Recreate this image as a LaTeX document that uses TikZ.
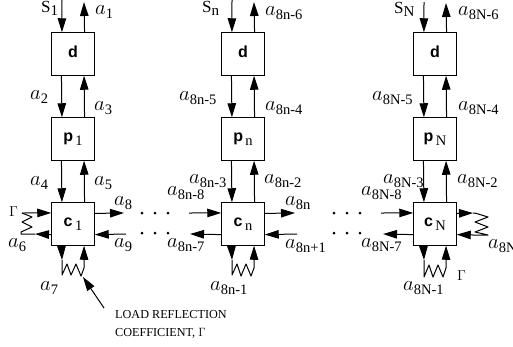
\documentclass[tikz,border=0pt]{standalone}
\usepackage{fontspec}
\setmainfont{Liberation Serif}
\setsansfont{Liberation Sans}
\usetikzlibrary{arrows.meta}

\newcommand{\alab}[1]{\fontsize{21}{21}\selectfont$a$\raisebox{-4pt}{\fontsize{14.5}{14.5}\selectfont #1}}
\newcommand{\slab}[1]{\fontsize{17}{17}\selectfont S\raisebox{-3pt}{\fontsize{15}{15}\selectfont #1}}
\newcommand{\blab}[2]{{\fontsize{16}{16}\selectfont\sffamily\bfseries #1}\raisebox{-4pt}{\fontsize{14.5}{14.5}\selectfont #2}}

\begin{document}
\begin{tikzpicture}[x=1pt,y=-1pt]

\tikzset{block/.style = {shape=rectangle,draw,line width=1pt,inner sep=0pt,minimum size=42.5pt}}
\tikzset{edge/.style = {line width=1pt,-{Triangle[length=14pt,width=8.5pt]}}}
\tikzset{wire/.style = {line width=1pt,line join=round}}
\tikzset{lab/.style = {anchor=base west,inner sep=0pt}}
\tikzset{dotmark/.style = {shape=circle,fill,inner sep=0pt,minimum size=3pt}}

\useasboundingbox (0,0) rectangle (513,346);

\node[block] (d1) at (73,54) {\blab{d}{}};
\node[block] (p1) at (73,139) {\blab{p}{\,1}};
\node[block] (c1) at (73,224) {\blab{c}{\,1}};

\node[block] (dn) at (243,54) {\blab{d}{}};
\node[block] (pn) at (243,139) {\blab{p}{\,n}};
\node[block] (cn) at (243,224) {\blab{c}{\,n}};

\node[block] (dN) at (435,54) {\blab{d}{}};
\node[block] (pN) at (435,139) {\blab{p}{\,N}};
\node[block] (cN) at (435,224) {\blab{c}{\,N}};

% first column
\coordinate (s1) at (62,0);
\coordinate (o1) at (84,2);
\draw[edge] (s1) -- (d1.117.6);
\draw[edge] (d1.62.4) -- (o1);
\draw[edge] (d1.242.4) -- (p1.117.6);
\draw[edge] (p1.62.4) -- (d1.297.6);
\draw[edge] (p1.242.4) -- (c1.117.6);
\draw[edge] (c1.62.4) -- (p1.297.6);

\coordinate (l1a) at (22,213);
\coordinate (l1b) at (35,234);
\coordinate (b1a) at (62,260);
\coordinate (b1b) at (84,260);
\coordinate (r1a) at (124,213);
\coordinate (r1b) at (126,234);
\draw[edge] (l1a) -- (c1.153.5);
\draw[edge] (c1.206.5) -- (l1b);
\draw[wire] (l1a) -- (32,217) -- (22,222) -- (32,227) -- (21,232) -- (21,234) -- (l1b);
\draw[edge] (c1.242.4) -- (b1a);
\draw[edge] (b1b) -- (c1.297.6);
\draw[wire] (b1a) -- (62,275) -- (67,264) -- (71,275) -- (76,264) -- (81,276) -- (84,268) -- (b1b);
\draw[edge] (c1.26.5) -- (r1a);
\draw[edge] (r1b) -- (c1.-26.5);

% middle column
\coordinate (sn) at (232,0);
\coordinate (on) at (254,2);
\draw[edge] (sn) -- (dn.117.6);
\draw[edge] (dn.62.4) -- (on);
\draw[edge] (dn.242.4) -- (pn.117.6);
\draw[edge] (pn.62.4) -- (dn.297.6);
\draw[edge] (pn.242.4) -- (cn.117.6);
\draw[edge] (cn.62.4) -- (pn.297.6);

\coordinate (lna) at (189,213);
\coordinate (lnb) at (190,234);
\coordinate (bna) at (232,260);
\coordinate (bnb) at (254,260);
\coordinate (rna) at (295,213);
\coordinate (rnb) at (297,234);
\draw[edge] (lna) -- (cn.153.5);
\draw[edge] (cn.206.5) -- (lnb);
\draw[edge] (cn.242.4) -- (bna);
\draw[edge] (bnb) -- (cn.297.6);
\draw[wire] (bna) -- (232,275) -- (237,264) -- (241,276) -- (246,264) -- (251,276) -- (254,268) -- (bnb);
\draw[edge] (cn.26.5) -- (rna);
\draw[edge] (rnb) -- (cn.-26.5);

% last column
\coordinate (sN) at (424,2);
\coordinate (oN) at (446,3);
\draw[edge] (sN) -- (dN.117.6);
\draw[edge] (dN.62.4) -- (oN);
\draw[edge] (dN.242.4) -- (pN.117.6);
\draw[edge] (pN.62.4) -- (dN.297.6);
\draw[edge] (pN.242.4) -- (cN.117.6);
\draw[edge] (cN.62.4) -- (pN.297.6);

\coordinate (lNa) at (381,213);
\coordinate (lNb) at (383,234);
\coordinate (bNa) at (424,260);
\coordinate (bNb) at (446,260);
\coordinate (rNa) at (473,213);
\coordinate (rNb) at (473,235);
\draw[edge] (lNa) -- (cN.153.5);
\draw[edge] (cN.206.5) -- (lNb);
\draw[edge] (cN.242.4) -- (bNa);
\draw[edge] (bNb) -- (cN.297.6);
\draw[wire] (bNa) -- (424,277) -- (429,265) -- (433,277) -- (438,265) -- (443,277) -- (446,268) -- (bNb);
\draw[edge] (cN.26.5) -- (rNa);
\draw[edge] (rNb) -- (cN.-26.5);
\draw[wire] (rNa) -- (475,213) -- (488,217) -- (475,222) -- (488,227) -- (475,232) -- (488,235) -- (rNb);

% dots
\node[dotmark] (t1) at (142,213) {};
\node[dotmark] (t2) at (155,213) {};
\node[dotmark] (t3) at (168,213) {};
\node[dotmark] (u1) at (142,233) {};
\node[dotmark] (u2) at (155,233) {};
\node[dotmark] (u3) at (168,233) {};
\node[dotmark] (t4) at (334,213) {};
\node[dotmark] (t5) at (347,213) {};
\node[dotmark] (t6) at (360,213) {};
\node[dotmark] (u4) at (334,233) {};
\node[dotmark] (u5) at (347,233) {};
\node[dotmark] (u6) at (360,233) {};

% labels
\node[lab] (ls1) at (41,12) {\slab{1}};
\node[lab] (la1) at (95,14) {\alab{1}};
\node[lab] (la2) at (30,99) {\alab{2}};
\node[lab] (la3) at (94,110) {\alab{3}};
\node[lab] (la4) at (30,185) {\alab{4}};
\node[lab] (la5) at (94,185) {\alab{5}};
\node[lab] (la6) at (8,247) {\alab{6}};
\node[lab] (la7) at (40,290) {\alab{7}};
\node[lab] (la8) at (114,205) {\alab{8}};
\node[lab] (la9) at (114,247) {\alab{9}};
\node[lab,font=\fontsize{15}{15}\selectfont] (lg1) at (9,216) {$\Gamma$};

\node[lab] (lsn) at (202,12) {\slab{n}};
\node[lab] (ln6) at (265,15) {\alab{8n-6}};
\node[lab] (ln5) at (179,100) {\alab{8n-5}};
\node[lab] (ln4) at (265,110) {\alab{8n-4}};
\node[lab] (ln3) at (189,183) {\alab{8n-3}};
\node[lab] (ln2) at (264,183) {\alab{8n-2}};
\node[lab] (ln8) at (167,195) {\alab{8n-8}};
\node[lab] (ln7) at (167,247) {\alab{8n-7}};
\node[lab] (ln0) at (285,205) {\alab{8n}};
\node[lab] (lnp) at (285,248) {\alab{8n+1}};
\node[lab] (ln1) at (210,290) {\alab{8n-1}};

\node[lab] (lsN) at (394,13) {\slab{N}};
\node[lab] (lN6) at (458,15) {\alab{8N-6}};
\node[lab] (lN5) at (372,100) {\alab{8N-5}};
\node[lab] (lN4) at (458,110) {\alab{8N-4}};
\node[lab] (lN3) at (383,183) {\alab{8N-3}};
\node[lab] (lN2) at (457,183) {\alab{8N-2}};
\node[lab] (lN8) at (361,195) {\alab{8N-8}};
\node[lab] (lN7) at (361,247) {\alab{8N-7}};
\node[lab] (lN0) at (488,248) {\alab{8N}};
\node[lab] (lN1) at (403,290) {\alab{8N-1}};
\node[lab,font=\fontsize{15}{15}\selectfont] (lgN) at (457,280) {$\Gamma$};

% load note
\node[lab,font=\fontsize{12.2}{12.2}\selectfont] (note1) at (115,318) {LOAD REFLECTION};
\node[lab,font=\fontsize{12.2}{12.2}\selectfont] (note2) at (115,336) {COEFFICIENT, $\Gamma$};
\coordinate (nt) at (104,308);
\coordinate (nh) at (83,277);
\draw[edge] (nt) -- (nh);

\end{tikzpicture}
\end{document}
